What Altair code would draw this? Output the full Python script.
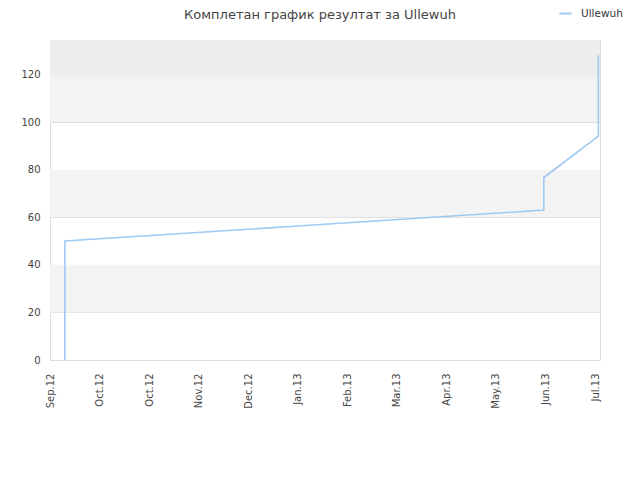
import altair as alt
import pandas as pd

title_text = "Комплетан график резултат за Ullewuh"
series_name = "Ullewuh"

# line points (date, score)
point_dates = ["2012-09-10", "2012-09-10", "2013-01-29", "2013-06-27",
               "2013-06-27", "2013-07-30", "2013-07-30", "2013-07-30"]
point_values = [0, 50, 56.3, 63.0, 76.7, 94.1, 110.6, 128.1]

# x axis ticks (every 30 days) and label format
tick_dates = ["2012-09-01", "2012-10-01", "2012-10-31", "2012-11-30",
              "2012-12-30", "2013-01-29", "2013-02-28", "2013-03-30",
              "2013-04-29", "2013-05-29", "2013-06-28", "2013-07-28"]
tick_format = "%b.%y"
x_domain = ["2012-09-01", "2013-07-31"]

# y axis
y_ticks = [0, 20, 40, 60, 80, 100, 120]
y_domain = [0, 134.5]

# background bands
band_lo = [20, 60, 100, 120]
band_hi = [40, 80, 120, 134.5]
band_color = ["#f3f3f3", "#f3f3f3", "#f3f3f3", "#ededed"]


def ms(s):
    return int(pd.Timestamp(s, tz="UTC").value // 10**6)


line_df = pd.DataFrame({
    "t": [ms(d) for d in point_dates],
    "v": point_values,
    "i": list(range(len(point_values))),
    "series": [series_name] * len(point_values),
})
band_df = pd.DataFrame({"lo": band_lo, "hi": band_hi, "c": band_color})

x_scale = alt.Scale(type="utc", domain=[ms(d) for d in x_domain])
y_scale = alt.Scale(domain=y_domain, nice=False, zero=False)

y_axis = alt.Axis(values=y_ticks, ticks=False, domain=False,
                  grid=True, gridColor="#dddddd", labelPadding=10,
                  labelFont="DejaVu Sans", labelFontSize=10,
                  labelColor="#444")

bands = alt.Chart(band_df).mark_rect().encode(
    x=alt.value(0), x2=alt.value(550),
    y=alt.Y("lo:Q", scale=y_scale, axis=y_axis, title=None),
    y2="hi:Q",
    fill=alt.Fill("c:N", scale=None, legend=None),
)

line = alt.Chart(line_df).mark_line(strokeWidth=1.6, interpolate="linear").encode(
    x=alt.X("t:T", scale=x_scale, title=None,
            axis=alt.Axis(values=[ms(d) for d in tick_dates],
                          labelExpr="utcFormat(datum.value, '" + tick_format + "')",
                          labelAngle=-90, labelAlign="right",
                          labelBaseline="middle", labelPadding=13, ticks=False,
                          grid=False, domain=False, labelFont="DejaVu Sans",
                          labelFontSize=10, labelColor="#444")),
    y=alt.Y("v:Q", scale=y_scale, title=None, axis=y_axis),
    order=alt.Order("i:Q"),
    color=alt.Color("series:N", scale=alt.Scale(range=["#9ccaf4"]),
                    legend=alt.Legend(orient="none", legendX=508, legendY=-34,
                                      title=None, symbolType="stroke",
                                      symbolStrokeWidth=2, symbolSize=150,
                                      labelOffset=8,
                                      labelFont="DejaVu Sans", labelFontSize=10.5,
                                      labelColor="#333")),
)

chart = alt.layer(bands, line).properties(
    width=550, height=320,
    autosize=alt.AutoSizeParams(type="none"),
    padding={"left": 42, "top": 32, "right": 30, "bottom": 110},
    title=alt.TitleParams(title_text, anchor="middle", fontSize=13,
                          font="DejaVu Sans", fontWeight="normal",
                          color="#444", offset=18, dx=-5, dy=34),
).configure_view(stroke="#d8d8d8", strokeWidth=1).configure(background="white")

chart.save("out.html", embed_options={"renderer": "svg", "actions": False})
